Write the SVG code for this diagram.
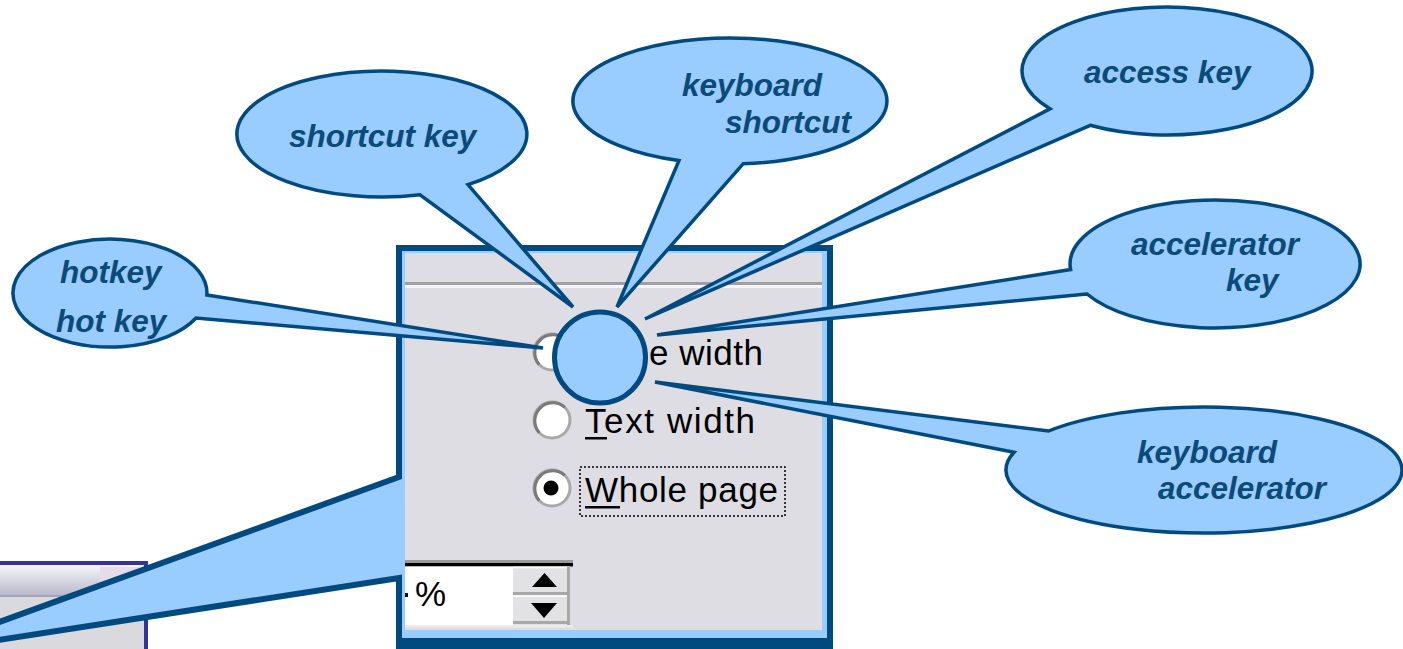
<svg xmlns="http://www.w3.org/2000/svg" width="1403" height="649" viewBox="0 0 1403 649">
  <defs>
    <style>
      .callout { fill: #99CCFF; stroke: #004A7F; stroke-width: 3.5; stroke-linejoin: miter; }
      .label { font-family: "Liberation Sans", Arial, sans-serif; font-weight: bold; font-style: italic; font-size: 31.5px; fill: #0B4A79; }
      .ui { font-family: "Liberation Sans", Arial, sans-serif; font-size: 35px; fill: #000; }
      .radio { fill: #FFFFFF; stroke: #A8A8A8; stroke-width: 3; }
      .radio-shade { fill: none; stroke: #7A7A7A; stroke-width: 3; }
    </style>
    <linearGradient id="titleGrad" x1="0" y1="0" x2="0" y2="1">
      <stop offset="0" stop-color="#F6F6FA"/>
      <stop offset="1" stop-color="#B9B9CC"/>
    </linearGradient>
    <clipPath id="panelClip">
      <rect x="405" y="253" width="417" height="377"/>
    </clipPath>
  </defs>

  <rect width="1403" height="649" fill="#FFFFFF"/>

  <!-- small dialog window, bottom left -->
  <g id="small-window">
    <rect x="-4" y="563" width="150" height="100" fill="#D9D9DE" stroke="#333399" stroke-width="4"/>
    <rect x="0" y="565" width="144" height="30" fill="url(#titleGrad)"/>
    <rect x="100" y="567" width="40" height="15" fill="#E4DCEA"/>
    <rect x="0" y="595" width="144" height="2" fill="#A4A4B4"/>
  </g>

  <!-- zoomed dialog panel with its pointer to the small window -->
  <g id="panel">
    <path d="M 399 477 L 399 248 L 830 248 L 830 641 L 399 641 L 399 578 L -86 653 Z"
          fill="#99CCFF" stroke="#004A7F" stroke-width="6" stroke-linejoin="miter"/>
    <rect x="396" y="638" width="437" height="11" fill="#004A7F"/>
    <g clip-path="url(#panelClip)">
      <rect x="405" y="253" width="417" height="377" fill="#DEDDE3"/>
      <rect x="405" y="282" width="417" height="3" fill="#A0A0A4"/>
      <rect x="405" y="285" width="417" height="3" fill="#F6F6F8"/>

      <!-- radio: Page width -->
      <circle class="radio" cx="552" cy="352" r="18"/>
      <path class="radio-shade" d="M 539.3 364.7 A 18 18 0 0 1 564.7 339.3"/>
      <text class="ui" x="585" y="365" textLength="178" lengthAdjust="spacing">Page width</text>

      <!-- radio: Text width -->
      <circle class="radio" cx="552" cy="420" r="18"/>
      <path class="radio-shade" d="M 539.3 432.7 A 18 18 0 0 1 564.7 407.3"/>
      <text class="ui" x="585" y="433" textLength="170" lengthAdjust="spacing">Text width</text>
      <rect x="585" y="437" width="22" height="2.5" fill="#000"/>

      <!-- radio: Whole page (selected) -->
      <circle class="radio" cx="552" cy="488" r="18"/>
      <path class="radio-shade" d="M 539.3 500.7 A 18 18 0 0 1 564.7 475.3"/>
      <circle cx="551" cy="488" r="7.5" fill="#000"/>
      <text class="ui" x="585" y="502" textLength="193" lengthAdjust="spacing">Whole page</text>
      <rect x="585" y="506" width="35" height="2.5" fill="#000"/>
      <rect x="580" y="467" width="205" height="49" fill="none" stroke="#000" stroke-width="1.5" stroke-dasharray="2 2"/>

      <!-- spin box -->
      <rect x="405" y="560" width="168" height="3" fill="#9A9A9A"/>
      <rect x="405" y="563" width="168" height="3.5" fill="#000"/>
      <rect x="405" y="566.5" width="108" height="58.5" fill="#FFFFFF"/>
      <rect x="405" y="625" width="168" height="2.5" fill="#ECECEC"/>
      <rect x="404" y="593" width="4" height="4" fill="#000"/>
      <text class="ui" x="415" y="606" font-size="33">%</text>
      <rect x="513" y="566.5" width="57" height="58.5" fill="#E2E2E4"/>
      <rect x="513" y="566.5" width="57" height="2" fill="#F8F8F8"/>
      <rect x="513" y="592" width="57" height="3" fill="#A8A8A8"/>
      <rect x="513" y="595" width="57" height="2" fill="#F8F8F8"/>
      <rect x="567" y="566.5" width="3" height="58.5" fill="#A8A8A8"/>
      <rect x="513" y="621" width="57" height="3" fill="#A8A8A8"/>
      <polygon points="532,587 557,587 544.5,573" fill="#000"/>
      <polygon points="531,603 557,603 544,618" fill="#000"/>
    </g>
  </g>

  <!-- label callouts -->
  <g id="callouts">
    <g id="hotkey">
      <path class="callout" d="M 206.9 294.9 L 543 348 L 196 318 A 97 54 0 1 1 206.9 294.9 Z"/>
      <text class="label" x="60" y="283">hotkey</text>
      <text class="label" x="56" y="332">hot key</text>
    </g>
    <g id="shortcut-key">
      <path class="callout" d="M 468 184.7 L 573 307 L 420 194.8 A 145 63 0 1 1 468 184.7 Z"/>
      <text class="label" x="289" y="147">shortcut key</text>
    </g>
    <g id="keyboard-shortcut">
      <path class="callout" d="M 743.1 163.8 L 617 307 L 678.9 160.6 A 157 63 0 1 1 743.1 163.8 Z"/>
      <text class="label" x="682" y="96">keyboard</text>
      <text class="label" x="725" y="133">shortcut</text>
    </g>
    <g id="access-key">
      <path class="callout" d="M 1090.2 125.3 L 645 319 L 1050 108.8 A 145 64 0 1 1 1090.2 125.3 Z"/>
      <text class="label" x="1084" y="83">access key</text>
    </g>
    <g id="accelerator-key">
      <path class="callout" d="M 1087 294 L 657 335 L 1070.6 269.6 A 145 64 0 1 1 1087 294 Z"/>
      <text class="label" x="1131" y="255">accelerator</text>
      <text class="label" x="1226" y="291">key</text>
    </g>
    <g id="keyboard-accelerator">
      <path class="callout" d="M 1014 452.3 L 655 382 L 1048.6 431 A 198 63 0 1 1 1014 452.3 Z"/>
      <text class="label" x="1137" y="463">keyboard</text>
      <text class="label" x="1158" y="499">accelerator</text>
    </g>
  </g>

  <!-- focal marker over the hot letter -->
  <g id="focus-circle">
    <circle cx="600" cy="357.5" r="45.5" fill="#99CCFF" stroke="#004A7F" stroke-width="5"/>
  </g>
</svg>
